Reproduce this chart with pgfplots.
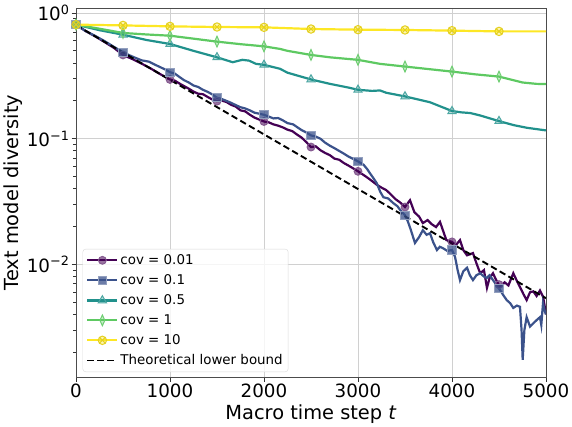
\documentclass[border=0pt]{standalone}
\usepackage{fontspec}
\setmainfont{DejaVu Sans}
\usepackage{pgfplots}
\pgfplotsset{compat=1.18}
\definecolor{c1}{HTML}{440154}
\definecolor{c2}{HTML}{3B528B}
\definecolor{c3}{HTML}{21918C}
\definecolor{c4}{HTML}{5EC962}
\definecolor{c5}{HTML}{FDE725}
\definecolor{gridc}{RGB}{208,208,208}
\tikzset{
 m1/.style={mark=*, mark size=3.9pt, mark options={solid, fill=c1, fill opacity=0.55, draw=c1!65, line width=1pt}},
 m2/.style={mark=square*, mark size=4.1pt, mark options={solid, fill=c2, fill opacity=0.75, draw=c2!55, line width=1pt}},
 m3/.style={mark=triangle*, mark size=4.7pt, mark options={solid, fill=c3, fill opacity=0.3, draw=c3!80, line width=1pt}},
 m4/.style={mark=diamond*, mark size=5.4pt, mark options={solid, xscale=0.6, fill=c4, fill opacity=0.35, draw=c4!90, line width=1pt}},
 m5/.style={mark=otimes*, mark size=4.2pt, mark options={solid, fill=c5, fill opacity=0.35, draw=c5!90!black, line width=1pt}},
}
\begin{document}
\begin{tikzpicture}
\useasboundingbox (0,0) rectangle (572pt,426pt);
\begin{axis}[
 scale only axis, width=470pt, height=369pt,
 at={(76pt,49pt)}, anchor=south west,
 xmin=0, xmax=5000, ymode=log, ymin=1.27e-3, ymax=1.096,
 xtick={0,1000,2000,3000,4000,5000},
 xticklabels={0,1000,2000,3000,4000,5000},
 ytick={1,0.1,0.01},
 yticklabels={10\textsuperscript{0},10\textsuperscript{−1},10\textsuperscript{−2}},
 minor ytick={0.002,0.003,0.004,0.005,0.006,0.007,0.008,0.009,0.02,0.03,0.04,0.05,0.06,0.07,0.08,0.09,0.2,0.3,0.4,0.5,0.6,0.7,0.8,0.9},
 tick align=outside, xtick pos=bottom, ytick pos=left,
 major tick length=4.5pt, minor tick length=2.6pt,
 tick style={black!80, line width=0.8pt},
 grid=major, major grid style={gridc, line width=0.9pt},
 axis line style={black!70, line width=0.9pt},
 tick label style={font=\fontsize{18.3}{21}\selectfont},
 xticklabel style={yshift=1pt},
 yticklabel style={xshift=1.5pt},
 label style={font=\fontsize{19.4}{22}\selectfont},
 xlabel={Macro time step \textit{t}},
 ylabel={Text model diversity},
 xlabel style={at={(axis description cs:0.5,-0.1165)}, anchor=base},
 ylabel style={at={(axis description cs:-0.1213,0.5)}, anchor=base},
 legend cell align=left,
 legend image code/.code={\draw[mark repeat=2,mark phase=2,#1] plot coordinates {(0pt,0pt) (15pt,0pt) (30pt,0pt)};},
 legend style={at={(0.014,0.0135)}, anchor=south west, draw=black!15, rounded corners=3pt,
   fill=white, fill opacity=0.8, text opacity=1, font=\fontsize{13.4}{16}\selectfont,
   row sep=4.6pt, inner sep=3.5pt},
]
% cov = 0.01
\addplot[c1, line width=2.2pt, forget plot] coordinates {
(0,0.808)(100,0.72)(200,0.655)(300,0.59)(400,0.53)(500,0.464)(600,0.43)(700,0.395)(800,0.36)(900,0.325)
(1000,0.296)(1050,0.290)(1100,0.275)(1150,0.262)(1200,0.25)(1250,0.237)(1300,0.228)(1350,0.226)(1400,0.215)(1450,0.205)
(1500,0.199)(1550,0.201)(1600,0.196)(1650,0.186)(1700,0.18)(1750,0.168)(1800,0.165)(1850,0.155)(1900,0.147)(1950,0.142)
(2000,0.137)(2050,0.135)(2100,0.13)(2150,0.127)(2200,0.123)(2250,0.118)(2300,0.115)(2350,0.108)(2400,0.102)(2450,0.094)
(2500,0.0858)(2550,0.087)(2600,0.081)(2650,0.077)(2700,0.074)(2750,0.0694)(2800,0.068)(2850,0.064)(2900,0.061)(2950,0.058)
(3000,0.055)(3050,0.052)(3100,0.049)(3150,0.046)(3200,0.043)(3250,0.0408)(3300,0.039)(3350,0.036)(3400,0.033)(3450,0.031)
(3500,0.0286)(3553,0.0324)(3600,0.026)(3650,0.024)(3690,0.0213)(3740,0.0225)(3780,0.021)(3830,0.0198)(3872,0.0218)
(3940,0.0156)(4000,0.0151)(4040,0.0142)(4085,0.0156)(4120,0.0130)(4160,0.0118)(4223,0.0123)(4260,0.0102)(4300,0.0085)
(4340,0.0090)(4372,0.0065)(4400,0.0078)(4436,0.0085)(4470,0.0075)(4511,0.0066)(4560,0.0072)(4600,0.0068)(4652,0.0085)
(4690,0.0074)(4723,0.0066)(4760,0.0058)(4794,0.0052)(4830,0.0060)(4865,0.0061)(4900,0.0056)(4936,0.0062)(4970,0.0055)(5000,0.0040)};
\addplot[c1, only marks, m1, forget plot] coordinates {
(0,0.808)(500,0.464)(1000,0.296)(1500,0.199)(2000,0.137)(2500,0.0858)(3000,0.055)(3500,0.0286)(4000,0.0151)(4500,0.0069)};
% cov = 0.1
\addplot[c2, line width=2.2pt, forget plot] coordinates {
(0,0.808)(100,0.72)(200,0.66)(300,0.6)(400,0.54)(500,0.487)(600,0.45)(700,0.42)(777,0.41)(850,0.385)(950,0.355)
(1000,0.338)(1050,0.330)(1100,0.31)(1150,0.292)(1200,0.28)(1250,0.265)(1300,0.258)(1350,0.245)(1400,0.236)(1450,0.225)
(1500,0.2115)(1550,0.207)(1600,0.2)(1650,0.193)(1700,0.185)(1750,0.178)(1800,0.174)(1850,0.168)(1900,0.161)(1950,0.158)
(2000,0.155)(2050,0.150)(2100,0.145)(2150,0.146)(2200,0.14)(2250,0.133)(2310,0.13)(2350,0.124)(2400,0.117)(2450,0.112)
(2500,0.1062)(2550,0.104)(2600,0.1)(2650,0.093)(2700,0.088)(2750,0.084)(2790,0.0807)(2850,0.076)(2900,0.072)(2950,0.069)
(3000,0.066)(3060,0.062)(3100,0.057)(3128,0.053)(3160,0.049)(3200,0.0442)(3235,0.038)(3270,0.0342)(3320,0.0335)
(3376,0.0307)(3420,0.029)(3450,0.027)(3500,0.0246)(3530,0.022)(3560,0.019)(3606,0.0148)(3650,0.0165)(3690,0.0187)
(3730,0.0172)(3766,0.0177)(3800,0.0150)(3840,0.0130)(3870,0.0138)(3900,0.0135)(3950,0.0128)(4000,0.0130)(4032,0.0115)
(4060,0.0090)(4085,0.0075)(4120,0.0088)(4160,0.0094)(4190,0.0082)(4223,0.0075)(4260,0.0082)(4300,0.0085)(4340,0.0080)
(4370,0.0078)(4400,0.0082)(4436,0.0075)(4470,0.0069)(4511,0.00625)(4545,0.0057)(4582,0.0052)(4620,0.0049)(4652,0.0045)
(4690,0.0047)(4723,0.0046)(4740,0.0030)(4752,0.00174)(4770,0.0030)(4794,0.0038)(4830,0.0032)(4865,0.0034)(4900,0.0036)
(4936,0.0038)(4950,0.0033)(4968,0.0049)(4985,0.0043)(5000,0.0040)};
\addplot[c2, only marks, m2, forget plot] coordinates {
(0,0.808)(500,0.487)(1000,0.338)(1500,0.2115)(2000,0.155)(2500,0.1062)(3000,0.066)(3500,0.0246)(4000,0.0130)(4500,0.0064)};
% cov = 0.5
\addplot[c3, line width=2.2pt, forget plot] coordinates {
(0,0.808)(250,0.73)(500,0.672)(750,0.61)(1000,0.567)(1250,0.50)(1500,0.444)(1667,0.406)(1770,0.424)(1840,0.418)
(1915,0.394)(2000,0.387)(2170,0.36)(2250,0.335)(2500,0.296)(2702,0.273)(2900,0.255)(3000,0.245)(3150,0.24)
(3234,0.242)(3300,0.232)(3500,0.217)(3766,0.195)(4000,0.166)(4100,0.162)(4195,0.16)(4300,0.153)(4500,0.138)
(4660,0.128)(4800,0.122)(5000,0.1164)};
\addplot[c3, only marks, m3, forget plot] coordinates {
(0,0.808)(500,0.672)(1000,0.567)(1500,0.444)(2000,0.387)(2500,0.296)(3000,0.245)(3500,0.217)(4000,0.1656)(4500,0.138)};
% cov = 1
\addplot[c4, line width=2.2pt, forget plot] coordinates {
(0,0.808)(250,0.75)(500,0.694)(750,0.675)(1000,0.660)(1250,0.625)(1500,0.592)(1750,0.565)(2000,0.543)
(2170,0.518)(2250,0.50)(2500,0.464)(2702,0.444)(3000,0.424)(3234,0.394)(3500,0.375)(3750,0.358)(4000,0.342)
(4250,0.325)(4500,0.312)(4750,0.28)(4900,0.273)(5000,0.272)};
\addplot[c4, only marks, m4, forget plot] coordinates {
(0,0.808)(500,0.694)(1000,0.660)(1500,0.592)(2000,0.543)(2500,0.464)(3000,0.424)(3500,0.375)(4000,0.342)(4500,0.312)};
% cov = 10
\addplot[c5, line width=2.2pt, forget plot] coordinates {
(0,0.808)(500,0.797)(1000,0.783)(1500,0.774)(2000,0.769)(2500,0.746)(3000,0.737)(3500,0.733)(4000,0.724)(4500,0.714)(5000,0.714)};
\addplot[c5, only marks, m5, forget plot] coordinates {
(0,0.808)(500,0.797)(1000,0.783)(1500,0.774)(2000,0.769)(2500,0.746)(3000,0.737)(3500,0.733)(4000,0.724)(4500,0.714)};
% lower bound
\addplot[black, line width=1.9pt, dash pattern=on 6.5pt off 3.5pt, forget plot] coordinates {
(0,0.8)(500,0.4851)(1000,0.2942)(1500,0.1784)(2000,0.1082)(2500,0.0656)(3000,0.03978)(3500,0.02412)(4000,0.01463)(4500,0.00887)(5000,0.005377)};
\addlegendimage{c1, line width=2.2pt, m1}
\addlegendentry{cov = 0.01}
\addlegendimage{c2, line width=2.2pt, m2}
\addlegendentry{cov = 0.1}
\addlegendimage{c3, line width=2.2pt, m3}
\addlegendentry{cov = 0.5}
\addlegendimage{c4, line width=2.2pt, m4}
\addlegendentry{cov = 1}
\addlegendimage{c5, line width=2.2pt, m5}
\addlegendentry{cov = 10}
\addlegendimage{black, line width=1.9pt, dash pattern=on 6.5pt off 3.5pt}
\addlegendentry{Theoretical lower bound}
\end{axis}
\end{tikzpicture}
\end{document}
